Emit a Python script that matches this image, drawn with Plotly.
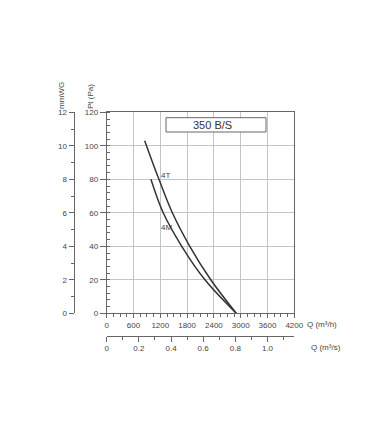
import plotly.graph_objects as go

# Data
q_4t = [850, 1000, 1170, 1470, 1860, 2330, 2900]
p_4t = [103, 92, 80, 60, 40, 20, 0]
q_4m = [990, 1265, 1680, 2200, 2900]
p_4m = [80, 60, 40, 20, 0]

x_ticks = [0, 600, 1200, 1800, 2400, 3000, 3600, 4200]
y_ticks = [0, 20, 40, 60, 80, 100, 120]
mm_ticks = [0, 2, 4, 6, 8, 10, 12]
qs_ticks = [0, 0.2, 0.4, 0.6, 0.8, 1.0]
qs_labels = ["0", "0.2", "0.4", "0.6", "0.8", "1.0"]
title_text = "350 B/S"

W, H = 380, 434
FONT = "Liberation Sans, Arial, sans-serif"
TXT = "#444444"
AX = "#666666"
GRID = "#c4c4c4"

def px_x(p):
    return p / W

def px_y(p):
    return (H - p) / H

x0, x1 = 106.7, 294.3
ytop, ybot = 112.3, 313.3

fig = go.Figure()
fig.add_trace(go.Scatter(x=q_4t, y=p_4t, mode="lines",
                         line=dict(color="#333333", width=1.5, shape="spline"),
                         showlegend=False, hoverinfo="skip"))
fig.add_trace(go.Scatter(x=q_4m, y=p_4m, mode="lines",
                         line=dict(color="#333333", width=1.5, shape="spline"),
                         showlegend=False, hoverinfo="skip"))
# dummy traces for the secondary axes
fig.add_trace(go.Scatter(x=[None], y=[None], yaxis="y2", showlegend=False))
fig.add_trace(go.Scatter(x=[None], y=[None], xaxis="x2", showlegend=False))

tickfont = dict(family=FONT, size=8, color=TXT)

fig.update_layout(
    width=W, height=H,
    margin=dict(l=0, r=0, t=0, b=0, pad=0, autoexpand=False),
    paper_bgcolor="white", plot_bgcolor="white",
    xaxis=dict(
        domain=[px_x(x0), px_x(x1)], range=[0, 4200],
        tickmode="array", tickvals=x_ticks,
        showgrid=True, gridcolor=GRID, gridwidth=1,
        showline=True, linecolor=AX, linewidth=1, mirror=True,
        ticks="outside", ticklen=4, tickcolor=AX,
        minor=dict(tickmode="linear", tick0=0, dtick=150, ticks="outside",
                   ticklen=3, tickcolor=AX, showgrid=False),
        tickfont=tickfont, zeroline=False, fixedrange=True, automargin=False,
    ),
    yaxis=dict(
        domain=[px_y(ybot), px_y(ytop)], range=[0, 120],
        tickmode="array", tickvals=y_ticks,
        showgrid=True, gridcolor=GRID, gridwidth=1,
        showline=True, linecolor=AX, linewidth=1, mirror=True,
        ticks="outside", ticklen=6, tickcolor=AX,
        minor=dict(tickmode="linear", tick0=0, dtick=4, ticks="inside",
                   ticklen=3, tickcolor=AX, showgrid=False),
        tickfont=tickfont, zeroline=False, fixedrange=True, automargin=False,
    ),
    yaxis2=dict(
        overlaying="y", anchor="free", position=px_x(73.5), side="left",
        range=[0, 12], tickmode="array", tickvals=mm_ticks,
        showgrid=False, showline=True, linecolor=AX, linewidth=1,
        ticks="outside", ticklen=5, tickcolor=AX,
        minor=dict(tickmode="linear", tick0=0, dtick=1, ticks="outside",
                   ticklen=3, tickcolor=AX, showgrid=False),
        tickfont=tickfont, zeroline=False, fixedrange=True, automargin=False,
    ),
    xaxis2=dict(
        overlaying="x", anchor="free", position=px_y(335.7), side="bottom",
        range=[0, 4200 / 3600], tickmode="array", tickvals=qs_ticks,
        ticktext=qs_labels,
        showgrid=False, showline=True, linecolor=AX, linewidth=1,
        ticks="outside", ticklen=5, tickcolor=AX,
        minor=dict(tickmode="linear", tick0=0, dtick=0.1, ticks="outside",
                   ticklen=3, tickcolor=AX, showgrid=False),
        tickfont=tickfont, zeroline=False, fixedrange=True, automargin=False,
    ),
    showlegend=False,
)

ann_font = dict(family=FONT, size=8, color=TXT)

def pann(text, x, y, xanchor="center", angle=0, font=ann_font):
    fig.add_annotation(text=text, x=px_x(x), y=px_y(y), xref="paper", yref="paper",
                       xanchor=xanchor, yanchor="middle", textangle=angle,
                       showarrow=False, font=font)

pann("mmWG", 61, 96, angle=-90)
pann("Pt (Pa)", 91, 97, angle=-90)
pann("Q (m³/h)", 305, 324.5, xanchor="left")
pann("Q (m³/s)", 309, 347, xanchor="left")

fig.add_annotation(text="4T", x=1320, y=82, xref="x", yref="y",
                   xanchor="center", yanchor="middle", showarrow=False, font=ann_font)
fig.add_annotation(text="4M", x=1330, y=51, xref="x", yref="y",
                   xanchor="center", yanchor="middle", showarrow=False, font=ann_font)

# title box
fig.add_shape(type="rect", xref="paper", yref="paper",
              x0=px_x(166), x1=px_x(266), y0=px_y(132), y1=px_y(117.7),
              line=dict(color="#666666", width=1), fillcolor="white")
pann(title_text, 212.5, 125.3, font=dict(family=FONT, size=11, color="#333333"))

fig.write_html("out.html")
